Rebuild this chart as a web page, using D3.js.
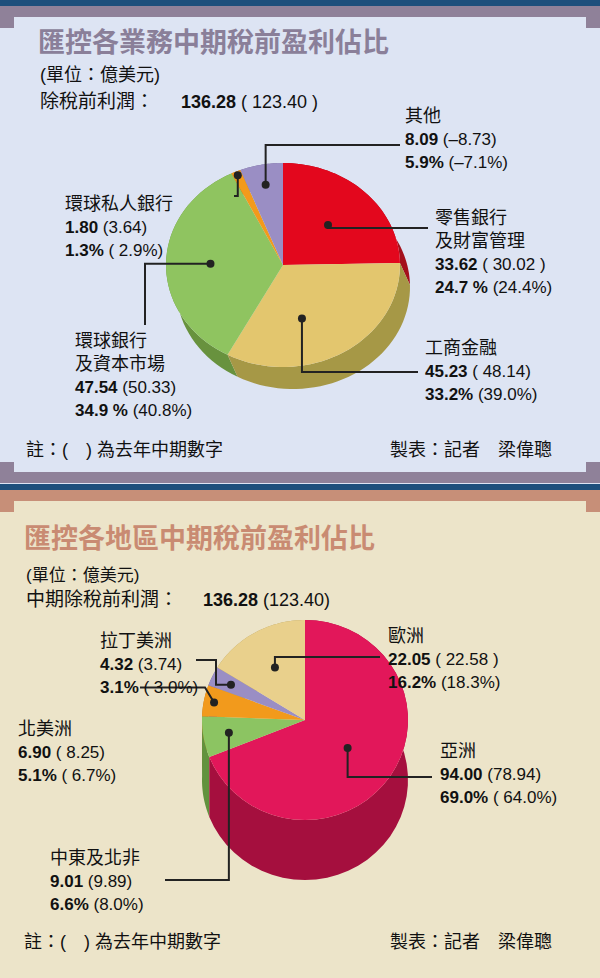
<!DOCTYPE html>
<html><head><meta charset="utf-8">
<script src="https://cdn.jsdelivr.net/npm/d3@7"></script>
<style>body{margin:0;background:#1d4f7c}svg text{font-family:"Liberation Sans","Noto Sans CJK TC",sans-serif}</style>
</head><body><svg id="c" width="600" height="978"></svg>
<script>
// panel 1 data: business segments
const segNames = ["零售銀行|及財富管理", "工商金融", "環球銀行|及資本市場", "環球私人銀行", "其他"];
const segValues = [33.62, 45.23, 47.54, 1.80, 8.09];
const segPrev = ["( 30.02 )", "( 48.14)", "(50.33)", "(3.64)", "(–8.73)"];
const segPct = ["24.7 %", "33.2%", "34.9 %", "1.3%", "5.9%"];
const segPctPrev = ["(24.4%)", "(39.0%)", "(40.8%)", "( 2.9%)", "(–7.1%)"];
const segColors = ["#e3071d", "#e3c66e", "#8fc460", "#f29a1c", "#9a8ec4"];
const segSide = ["#a4101c", "#a69846", "#68923e", "#b86f10", "#6e6494"];

// panel 2 data: regions
const regNames = ["亞洲", "中東及北非", "北美洲", "拉丁美洲", "歐洲"];
const regValues = [94.00, 9.01, 6.90, 4.32, 22.05];
const regPrev = ["(78.94)", "(9.89)", "( 8.25)", "(3.74)", "( 22.58 )"];
const regPct = ["69.0%", "6.6%", "5.1%", "3.1%", "16.2%"];
const regPctPrev = ["( 64.0%)", "(8.0%)", "( 6.7%)", "( 3.0%)", "(18.3%)"];
const regColors = ["#e2175a", "#8cc462", "#f29a1c", "#9a8ec4", "#e9d08c"];
const regSide = ["#a50f3e", "#62923e", "#b86f10", "#6e6494", "#b09a5a"];

const svg = d3.select("#c");

// backgrounds
function panel(y0, y1, frame, fill) {
  svg.append("rect").attr("x", 0).attr("y", y0).attr("width", 600).attr("height", 13).attr("fill", frame);
  svg.append("rect").attr("x", 0).attr("y", y0).attr("width", 14).attr("height", 22).attr("fill", frame);
  svg.append("rect").attr("x", 586).attr("y", y0).attr("width", 14).attr("height", 22).attr("fill", frame);
  svg.append("rect").attr("x", 0).attr("y", y0 + 22).attr("width", 600).attr("height", y1 - y0 - 22).attr("fill", fill);
  svg.append("rect").attr("x", 14).attr("y", y0 + 11).attr("width", 572).attr("height", 13).attr("fill", fill);
}
panel(6, 484, "#8f8199", "#dde4f3");
svg.append("rect").attr("x", 0).attr("y", 462).attr("width", 600).attr("height", 21).attr("fill", "#8f8199");
svg.append("rect").attr("x", 14).attr("y", 462).attr("width", 572).attr("height", 10).attr("fill", "#dde4f3");
panel(490, 978, "#c78f78", "#ece4c9");

function txt(x, y, s, size, opt = {}) {
  return svg.append("text").attr("x", x).attr("y", y).attr("font-size", size)
    .attr("font-weight", opt.bold ? "bold" : null).attr("fill", opt.fill || "#111")
    .attr("font-family", opt.cjk ? "'Noto Sans CJK TC',sans-serif" : null).text(s);
}

function pie3d(values, colors, sides, cx, cy, rx, ry, dx, dy) {
  const arcs = d3.pie().sort(null).value(d => d)(values);
  const pt = (a, ox = 0, oy = 0) => [cx + rx * Math.sin(a) + ox, cy - ry * Math.cos(a) + oy];
  const g = svg.append("g");
  const mid = d => (d.startAngle + d.endAngle) / 2;
  const order = arcs.map((d, i) => i).sort((a, b) => Math.cos(mid(arcs[b])) - Math.cos(mid(arcs[a])));
  const samp = d => d3.range(0, 41).map(k => d.startAngle + (d.endAngle - d.startAngle) * k / 40);
  // extrusion, back slices first
  order.forEach(i => {
    const d = arcs[i], as = samp(d);
    const poly = as.map(a => pt(a)).concat(as.slice().reverse().map(a => pt(a, dx, dy)));
    g.append("path").attr("d", d3.line()(poly) + "Z").attr("fill", sides[i]);
  });
  arcs.forEach((d, i) => {
    const poly = [[cx, cy]].concat(samp(d).map(a => pt(a)));
    g.append("path").attr("d", d3.line()(poly) + "Z").attr("fill", colors[i]);
  });
  return arcs.map(d => (f, da = 0) => {
    const p = pt(mid(d) + da);
    return [cx + (p[0] - cx) * f, cy + (p[1] - cy) * f];
  });
}

function leader(p, pts) {
  svg.append("path").attr("d", d3.line()([p].concat(pts))).attr("fill", "none").attr("stroke", "#222").attr("stroke-width", 2);
  svg.append("circle").attr("cx", p[0]).attr("cy", p[1]).attr("r", 4).attr("fill", "#222");
}

function label(x, y, name, val, prev, pct, pctPrev) {
  const lines = name.split("|");
  lines.forEach((l, k) => txt(x, y + k * 23, l, 18, { cjk: true }));
  let yy = y + lines.length * 23;
  const t1 = txt(x, yy, "", 17);
  t1.append("tspan").attr("font-weight", "bold").text(val.toFixed(2));
  t1.append("tspan").text(" " + prev);
  const t2 = txt(x, yy + 23, "", 17);
  t2.append("tspan").attr("font-weight", "bold").text(pct);
  t2.append("tspan").text(" " + pctPrev);
}

// ---------- panel 1 ----------
txt(38, 52, "匯控各業務中期稅前盈利佔比", 27, { bold: true, fill: "#8a7f99", cjk: true });
txt(40, 81, "(單位：億美元)", 18, { cjk: true });
txt(40, 108, "除稅前利潤：", 19, { cjk: true });
const t0 = txt(181, 108, "", 18);
t0.append("tspan").attr("font-weight", "bold").text("136.28");
t0.append("tspan").text(" ( 123.40 )");

const c1 = pie3d(segValues, segColors, segSide, 283, 265, 117, 102, 10, 22);
const p4 = c1[4](0.8), p0 = c1[0](0.55), p1 = c1[1](0.55, 0.25), p3 = c1[3](0.96), p2 = c1[2](0.62);
leader(p4, [[p4[0], 145], [400, 145]]);
leader(p0, [[p0[0], 228], [428, 228]]);
leader(p1, [[p1[0], 372], [418, 372]]);
leader(p3, [[p3[0], 196], [234, 196]]);
leader(p2, [[145, p2[1]], [145, 325]]);
label(405, 122, "其他", segValues[4], segPrev[4], segPct[4], segPctPrev[4]);
label(435, 224, segNames[0], segValues[0], segPrev[0], segPct[0], segPctPrev[0]);
label(425, 354, segNames[1], segValues[1], segPrev[1], segPct[1], segPctPrev[1]);
label(65, 210, segNames[3], segValues[3], segPrev[3], segPct[3], segPctPrev[3]);
label(75, 347, segNames[2], segValues[2], segPrev[2], segPct[2], segPctPrev[2]);
txt(26, 456, "註：(　) 為去年中期數字", 18, { cjk: true });
txt(390, 456, "製表：記者　梁偉聰", 18, { cjk: true });

// ---------- panel 2 ----------
txt(24, 548, "匯控各地區中期稅前盈利佔比", 27, { bold: true, fill: "#c98b72", cjk: true });
txt(26, 581, "(單位：億美元)", 17, { cjk: true });
txt(26, 606, "中期除稅前利潤：", 19, { cjk: true });
const t3 = txt(203, 606, "", 18);
t3.append("tspan").attr("font-weight", "bold").text("136.28");
t3.append("tspan").text(" (123.40)");

const c2 = pie3d(regValues, regColors, regSide, 305, 720, 103, 100, 0, 60);
const q3 = c2[3](0.8), q4 = c2[4](0.6), q2 = c2[2](0.9), q0 = c2[0](0.5), q1 = c2[1](0.75);
leader(q3, [[216, q3[1]], [216, 660], [196, 660]]);
leader(q4, [[q4[0], 657], [380, 657]]);
leader(q2, [[205, q2[1] - 15], [140, q2[1] - 15]]);
leader(q0, [[q0[0], 777], [432, 777]]);
leader(q1, [[q1[0], 880], [165, 880]]);
label(100, 647, regNames[3], regValues[3], regPrev[3], regPct[3], regPctPrev[3]);
label(388, 642, regNames[4], regValues[4], regPrev[4], regPct[4], regPctPrev[4]);
label(18, 735, regNames[2], regValues[2], regPrev[2], regPct[2], regPctPrev[2]);
label(440, 757, regNames[0], regValues[0], regPrev[0], regPct[0], regPctPrev[0]);
label(50, 864, regNames[1], regValues[1], regPrev[1], regPct[1], regPctPrev[1]);
txt(24, 948, "註：(　) 為去年中期數字", 18, { cjk: true });
txt(390, 948, "製表：記者　梁偉聰", 18, { cjk: true });
</script></body></html>
